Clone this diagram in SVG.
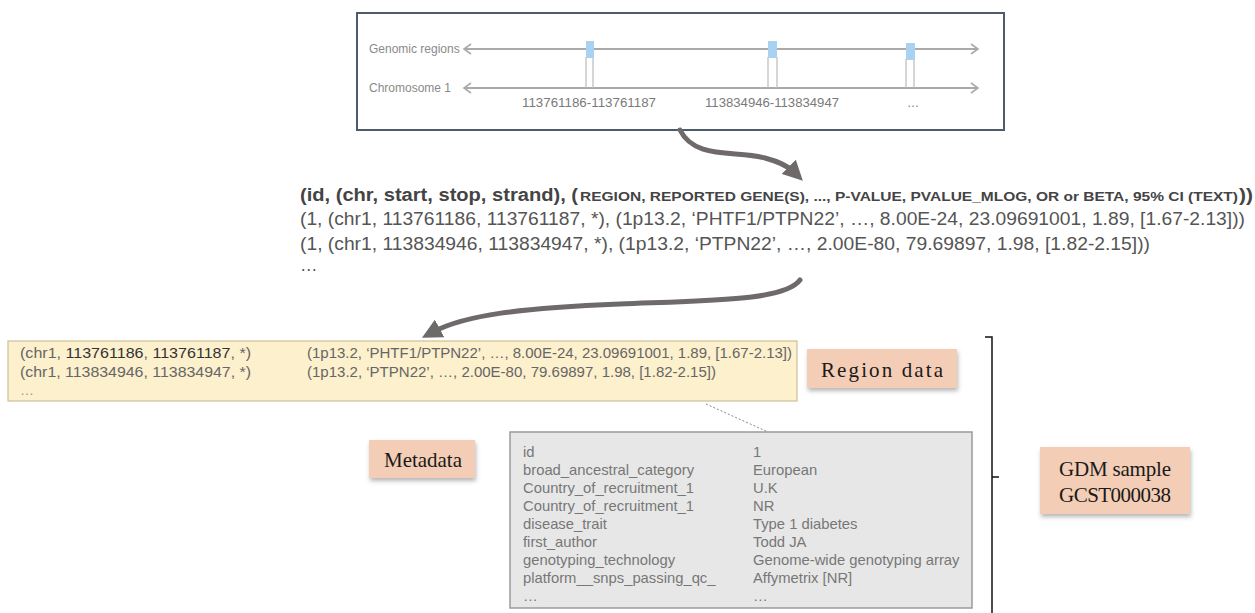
<svg xmlns="http://www.w3.org/2000/svg" width="1255" height="613" viewBox="0 0 1255 613">
<style>
.sans{font-family:"Liberation Sans",Arial,sans-serif}
.lbl{font-family:"Liberation Serif","Noto Sans CJK SC",serif;font-size:21px;fill:#1a1a1a;text-anchor:middle}
.axis{stroke:#aaaaaa;stroke-width:2;fill:none}
.tick{stroke:#bbbbbb;stroke-width:1.2;fill:none}
.blue{fill:#a9d2f2}
.chev{stroke:#aaaaaa;stroke-width:1.6;fill:none}
.tag{fill:#f3cdb5}
.big{stroke:#6e6a69;stroke-width:5;fill:none;stroke-linecap:round}
.meta{font-family:"Liberation Sans",Arial,sans-serif;font-size:14.8px;fill:#777}
</style>
<defs>
<filter id="sh" x="-20%" y="-20%" width="140%" height="150%">
<feDropShadow dx="1" dy="3" stdDeviation="2" flood-color="#888" flood-opacity="0.6"/>
</filter>
<marker id="ah" markerWidth="4" markerHeight="4" refX="1.5" refY="2" orient="auto" markerUnits="strokeWidth">
<path d="M0,0 L4,2 L0,4 Z" fill="#6e6a69"/>
</marker>
</defs>

<g id="genome-view">
<rect x="357" y="13" width="647" height="117" fill="#fff" stroke="#4d5b6c" stroke-width="2"/>
<text class="sans" x="369" y="53" font-size="12" fill="#8a8a8a">Genomic regions</text>
<text class="sans" x="369" y="92" font-size="12" fill="#8a8a8a">Chromosome 1</text>
<line class="axis" x1="464" y1="49" x2="978" y2="49"/>
<line class="axis" x1="464" y1="88" x2="978" y2="88"/>
<path class="chev" d="M471,44 L464,49 L471,54 M971,44 L978,49 L971,54"/>
<path class="chev" d="M471,83 L464,88 L471,93 M971,83 L978,88 L971,93"/>
<path class="tick" d="M586,57 V88 M593,57 V88 M768,57 V88 M777,57 V88 M906,59 V88 M914,59 V88"/>
<rect class="blue" x="586" y="41" width="8" height="17"/>
<rect class="blue" x="768" y="41" width="9" height="17"/>
<rect class="blue" x="906" y="43" width="9" height="17"/>
<text class="sans" x="589" y="107" font-size="12" fill="#7a7a7a" text-anchor="middle" textLength="134" lengthAdjust="spacingAndGlyphs">113761186-113761187</text>
<text class="sans" x="772" y="107" font-size="12" fill="#7a7a7a" text-anchor="middle" textLength="134" lengthAdjust="spacingAndGlyphs">113834946-113834947</text>
<text class="sans" x="913" y="107" font-size="12" fill="#7a7a7a" text-anchor="middle">…</text>
</g>

<g id="tuples">
<text class="sans" x="300" y="201" font-size="17.5" font-weight="bold" fill="#444" textLength="278" lengthAdjust="spacingAndGlyphs">(id, (chr, start, stop, strand), (</text>
<text class="sans" x="580" y="201" font-size="13" font-weight="bold" fill="#444" textLength="658" lengthAdjust="spacingAndGlyphs">REGION, REPORTED GENE(S), ..., P-VALUE, PVALUE_MLOG, OR or BETA, 95% CI (TEXT)</text>
<text class="sans" x="1239" y="201" font-size="17.5" font-weight="bold" fill="#444" textLength="14" lengthAdjust="spacingAndGlyphs">))</text>
<text class="sans" x="300" y="225" font-size="17.5" fill="#555" textLength="945" lengthAdjust="spacingAndGlyphs">(1, (chr1, 113761186, 113761187, *), (1p13.2, ‘PHTF1/PTPN22’, …, 8.00E-24, 23.09691001, 1.89, [1.67-2.13]))</text>
<text class="sans" x="300" y="250" font-size="17.5" fill="#555" textLength="850" lengthAdjust="spacingAndGlyphs">(1, (chr1, 113834946, 113834947, *), (1p13.2, ‘PTPN22’, …, 2.00E-80, 79.69897, 1.98, [1.82-2.15]))</text>
<text class="sans" x="300" y="271" font-size="17.5" fill="#555">…</text>
</g>

<g id="region-data">
<rect x="8" y="341" width="789" height="60" fill="#fdf0cd" stroke="#cdbf98" stroke-width="1.2"/>
<text class="sans" x="20" y="358" font-size="14.5" fill="#666" textLength="231" lengthAdjust="spacingAndGlyphs">(chr1, <tspan fill="#333">113761186</tspan>, <tspan fill="#333">113761187</tspan>, *)</text>
<text class="sans" x="20" y="377" font-size="14.5" fill="#666" textLength="231" lengthAdjust="spacingAndGlyphs">(chr1, 113834946, 113834947, *)</text>
<text class="sans" x="20" y="395" font-size="14" fill="#999">…</text>
<text class="sans" x="307" y="358" font-size="14.5" fill="#666" textLength="485" lengthAdjust="spacingAndGlyphs">(1p13.2, ‘PHTF1/PTPN22’, …, 8.00E-24, 23.09691001, 1.89, [1.67-2.13])</text>
<text class="sans" x="307" y="377" font-size="14.5" fill="#666" textLength="409" lengthAdjust="spacingAndGlyphs">(1p13.2, ‘PTPN22’, …, 2.00E-80, 79.69897, 1.98, [1.82-2.15])</text>
</g>

<g id="label-region-data">
<rect class="tag" x="807" y="349" width="150" height="39" filter="url(#sh)"/>
<text class="lbl" x="882" y="377" textLength="122" lengthAdjust="spacing">Region data</text>
</g>

<g id="label-metadata">
<rect class="tag" x="369" y="440" width="106" height="38" filter="url(#sh)"/>
<text class="lbl" x="423" y="467" font-size="19" textLength="78" lengthAdjust="spacing">Metadata</text>
</g>

<g id="metadata">
<rect x="510" y="432" width="462" height="176" fill="#e7e7e7" stroke="#9a9a9a" stroke-width="1.5"/>
<text class="meta" x="523" y="457">id</text>
<text class="meta" x="523" y="475">broad_ancestral_category</text>
<text class="meta" x="523" y="493">Country_of_recruitment_1</text>
<text class="meta" x="523" y="511">Country_of_recruitment_1</text>
<text class="meta" x="523" y="529">disease_trait</text>
<text class="meta" x="523" y="547">first_author</text>
<text class="meta" x="523" y="565">genotyping_technology</text>
<text class="meta" x="523" y="583">platform__snps_passing_qc_</text>
<text class="meta" x="523" y="601" fill="#999">…</text>
<text class="meta" x="753" y="457">1</text>
<text class="meta" x="753" y="475">European</text>
<text class="meta" x="753" y="493">U.K</text>
<text class="meta" x="753" y="511">NR</text>
<text class="meta" x="753" y="529">Type 1 diabetes</text>
<text class="meta" x="753" y="547">Todd JA</text>
<text class="meta" x="753" y="565">Genome-wide genotyping array</text>
<text class="meta" x="753" y="583">Affymetrix [NR]</text>
<text class="meta" x="753" y="601" fill="#999">…</text>
</g>

<g id="label-gdm-sample">
<rect class="tag" x="1040" y="447" width="150" height="67" filter="url(#sh)"/>
<text class="lbl" x="1115" y="476" textLength="112" lengthAdjust="spacing">GDM sample</text>
<text class="lbl" x="1115" y="502" textLength="112" lengthAdjust="spacing">GCST000038</text>
</g>

<g id="bracket">
<path d="M985,337 H992 V613 M992,477 H999" stroke="#111" stroke-width="1.5" fill="none"/>
</g>

<g id="connectors">
<path class="big" d="M680,130 C695,160 735,150 765,158 C780,162 788,166 794,172" marker-end="url(#ah)"/>
<path class="big" d="M800,280 C785,300 720,300 620,304 C520,308 465,315 433,332" marker-end="url(#ah)"/>
<line x1="706" y1="404" x2="768" y2="432" stroke="#888" stroke-width="1" stroke-dasharray="2,2"/>
</g>
</svg>
